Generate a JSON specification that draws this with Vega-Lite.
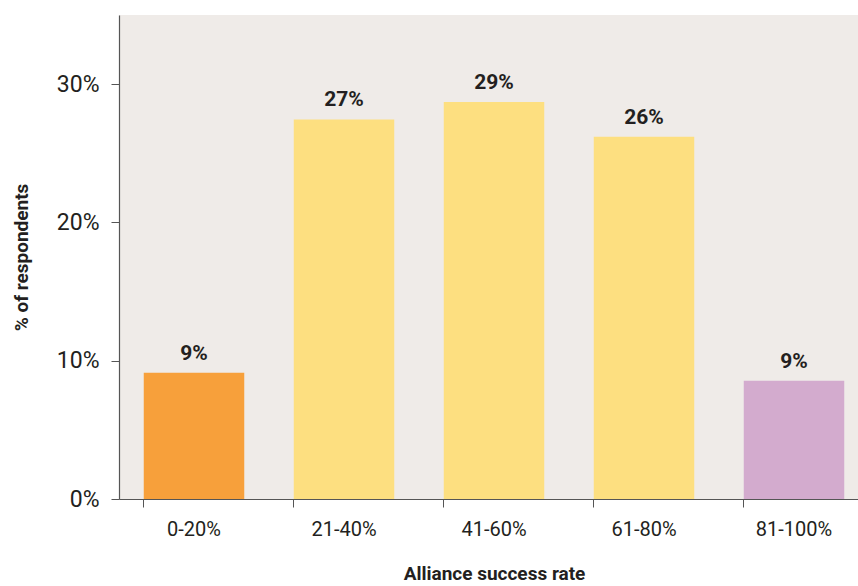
{
  "$schema": "https://vega.github.io/schema/vega-lite/v6.json",
  "width": 739,
  "height": 484,
  "autosize": {"type": "none"},
  "padding": {"left": 119, "top": 15, "right": 0, "bottom": 87},
  "background": "white",
  "view": {"fill": "#efebe8", "stroke": null},
  "config": {"font": "Roboto"},
  "data": {
    "values": [
      {"range": "0-20%", "value": 9.13, "label": "9%"},
      {"range": "21-40%", "value": 27.45, "label": "27%"},
      {"range": "41-60%", "value": 28.7, "label": "29%"},
      {"range": "61-80%", "value": 26.2, "label": "26%"},
      {"range": "81-100%", "value": 8.55, "label": "9%"}
    ]
  },
  "encoding": {
    "x": {
      "field": "range",
      "type": "nominal",
      "sort": null,
      "scale": {"range": [0, 750], "paddingInner": 0.33, "paddingOuter": 0.165},
      "axis": {
        "title": "Alliance success rate",
        "titleFont": "Roboto",
        "titleFontSize": 19,
        "titleFontWeight": "bold",
        "titleColor": "#231f20",
        "titlePadding": 25,
        "labelAngle": 0,
        "labelFont": "Roboto",
        "labelFontSize": 20,
        "labelColor": "#231f20",
        "labelPadding": 12,
        "bandPosition": 0,
        "tickSize": 8,
        "tickColor": "#555555",
        "domainColor": "#555555",
        "domainWidth": 1.2,
        "grid": false
      }
    },
    "y": {
      "field": "value",
      "type": "quantitative",
      "scale": {"domain": [0, 35], "nice": false},
      "axis": {
        "title": "% of respondents",
        "titleFont": "Roboto",
        "titleFontSize": 19,
        "titleFontWeight": "bold",
        "titleColor": "#231f20",
        "titlePadding": 25,
        "values": [0, 10, 20, 30],
        "labelExpr": "datum.value + '%'",
        "labelFont": "Roboto",
        "labelFontSize": 23,
        "labelColor": "#231f20",
        "labelPadding": 12,
        "tickSize": 8,
        "tickColor": "#555555",
        "domainColor": "#555555",
        "domainWidth": 1.2,
        "grid": false
      }
    }
  },
  "layer": [
    {
      "mark": {"type": "bar", "clip": true},
      "encoding": {
        "color": {
          "field": "range",
          "type": "nominal",
          "scale": {
            "domain": ["0-20%", "21-40%", "41-60%", "61-80%", "81-100%"],
            "range": ["#f7a03b", "#fddf80", "#fddf80", "#fddf80", "#d3abce"]
          },
          "legend": null
        }
      }
    },
    {
      "mark": {"type": "text", "baseline": "alphabetic", "dy": -13, "fontSize": 21, "fontWeight": "bold", "color": "#231f20", "font": "Roboto"},
      "encoding": {"text": {"field": "label"}}
    }
  ]
}
